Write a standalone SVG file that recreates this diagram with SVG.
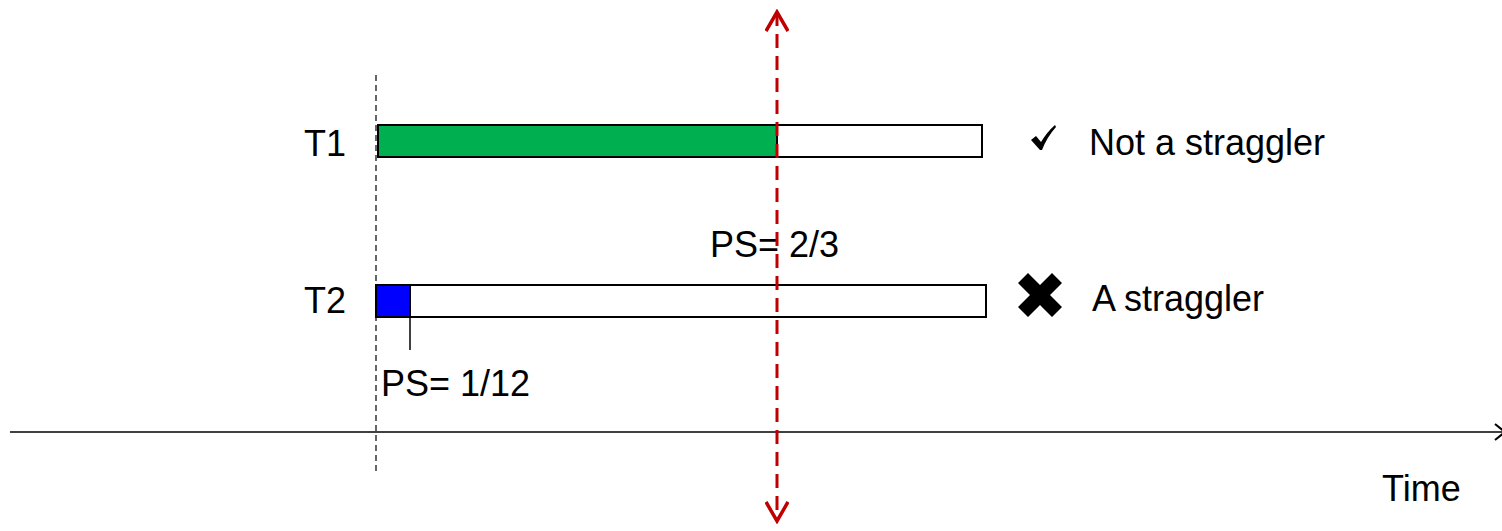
<svg xmlns="http://www.w3.org/2000/svg" width="1502" height="531" viewBox="0 0 1502 531">
<style>
text{font-family:"Liberation Sans",Arial,sans-serif;font-size:36px;fill:#000}
.bar{stroke:#000;stroke-width:2}
</style>
<defs>
<marker id="redArrow" viewBox="0 0 24 24" refX="21" refY="12" markerWidth="24" markerHeight="24" markerUnits="userSpaceOnUse" orient="auto-start-reverse">
<path d="M2,1 L21,12 L2,23" fill="none" stroke="#C00000" stroke-width="3.5"/>
</marker>
</defs>
<rect width="1502" height="531" fill="#fff"/>
<g id="start-line"><line x1="376" y1="75" x2="376" y2="472" stroke="#000" stroke-width="1.2" stroke-dasharray="6,4"/></g>
<g id="T1">
<rect class="bar" x="378" y="125" width="604" height="32" fill="#fff"/>
<rect class="bar" x="378" y="125" width="399" height="32" fill="#00B050"/>
<text x="304" y="156">T1</text>
<text x="710" y="257">PS= 2/3</text>
</g>
<g id="T2">
<rect class="bar" x="376" y="285" width="610" height="32" fill="#fff"/>
<rect class="bar" x="376" y="285" width="34" height="32" fill="#0000FF"/>
<line x1="410" y1="317" x2="410" y2="350" stroke="#000" stroke-width="1.5"/>
<text x="304" y="313">T2</text>
<text x="381" y="396">PS= 1/12</text>
</g>
<g id="status1">
<path d="M1031,140 L1036,136 L1041,142 Q1047,132 1055,125 L1056,127 Q1047,137 1042,150 L1040,150 Z" fill="#000"/>
<text x="1089" y="155">Not a straggler</text>
</g>
<g id="status2">
<path d="M1040,285 L1052,273 L1062,283 L1050,295 L1062,307 L1052,317 L1040,305 L1028,317 L1018,307 L1030,295 L1018,283 L1028,273 Z" fill="#000"/>
<text x="1092" y="311">A straggler</text>
</g>
<g id="axis">
<line x1="10" y1="432" x2="1502" y2="432" stroke="#000" stroke-width="1.5"/>
<path d="M1495,424 L1505,432 L1495,440" fill="none" stroke="#000" stroke-width="2"/>
<text x="1382" y="501">Time</text>
</g>
<g id="connectors">
<line x1="777" y1="12" x2="777" y2="521" stroke="#C00000" stroke-width="3" stroke-dasharray="14,8" marker-start="url(#redArrow)" marker-end="url(#redArrow)"/>
</g>
</svg>
